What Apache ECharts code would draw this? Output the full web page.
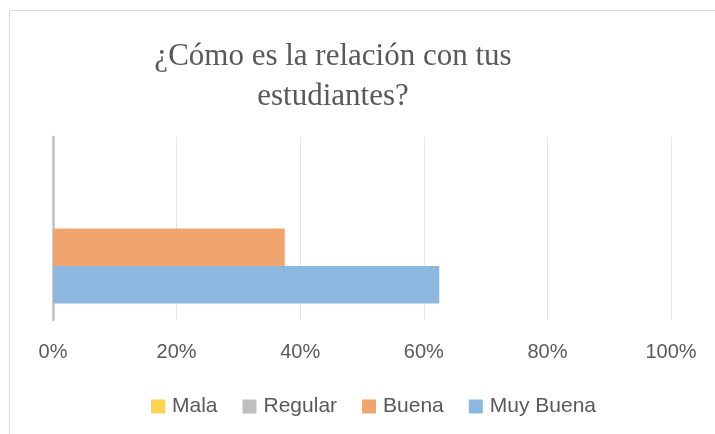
<!DOCTYPE html>
<html>
<head>
<meta charset="utf-8">
<script src="https://cdn.jsdelivr.net/npm/echarts@6/dist/echarts.min.js"></script>
<style>
  html, body { margin: 0; padding: 0; background: #fff; }
  #main { width: 715px; height: 434px; }
</style>
</head>
<body>
<div id="main"></div>
<script>
// datos
const categories = [''];
const seriesNames = ['Mala', 'Regular', 'Buena', 'Muy Buena'];
const seriesColors = ['#FFD24F', '#BFBFBF', '#F0A46E', '#8CB8E0'];
const mala = [0];
const regular = [0];
const buena = [0.375];
const muyBuena = [0.625];

const allData = [mala, regular, buena, muyBuena];

const chart = echarts.init(document.getElementById('main'));

const option = {
  animation: false,
  title: {
    text: '¿Cómo es la relación con tus\nestudiantes?',
    left: 328,
    top: 32,
    textAlign: 'center',
    textStyle: {
      fontFamily: 'Liberation Serif',
      fontSize: 31,
      fontWeight: 'normal',
      color: '#595959',
      lineHeight: 40
    }
  },
  graphic: [{
    type: 'rect',
    shape: { x: 9.5, y: 10.5, width: 800, height: 500 },
    style: { fill: 'none', stroke: '#d9d9d9', lineWidth: 1 },
    silent: true
  }],
  legend: {
    data: seriesNames,
    left: 146,
    top: 391,
    itemWidth: 14,
    itemHeight: 14,
    itemGap: 25,
    icon: 'rect',
    textStyle: {
      fontFamily: 'Liberation Sans',
      fontSize: 21,
      color: '#595959',
      padding: [0, 0, 0, 2]
    }
  },
  grid: {
    left: 53,
    right: 44,
    top: 137,
    bottom: 114,
    containLabel: false
  },
  xAxis: {
    type: 'value',
    min: 0,
    max: 1,
    interval: 0.2,
    axisLine: { show: false },
    axisTick: { show: false },
    splitLine: { lineStyle: { color: '#e6e6e6', width: 1 } },
    axisLabel: {
      margin: 22,
      fontFamily: 'Liberation Sans',
      fontSize: 20,
      color: '#595959',
      formatter: function (v) {
        return Math.round(v * 100) + '%';
      }
    }
  },
  yAxis: {
    type: 'category',
    data: categories,
    axisLine: { show: true, lineStyle: { color: '#bfbfbf', width: 2.5 } },
    axisTick: { show: false },
    axisLabel: { show: false },
    splitLine: { show: false }
  },
  series: seriesNames.map(function (name, i) {
    return {
      name: name,
      type: 'bar',
      data: allData[i],
      barGap: '0%',
      barCategoryGap: '18%',
      itemStyle: { color: seriesColors[i] }
    };
  })
};

chart.setOption(option);
</script>
</body>
</html>
